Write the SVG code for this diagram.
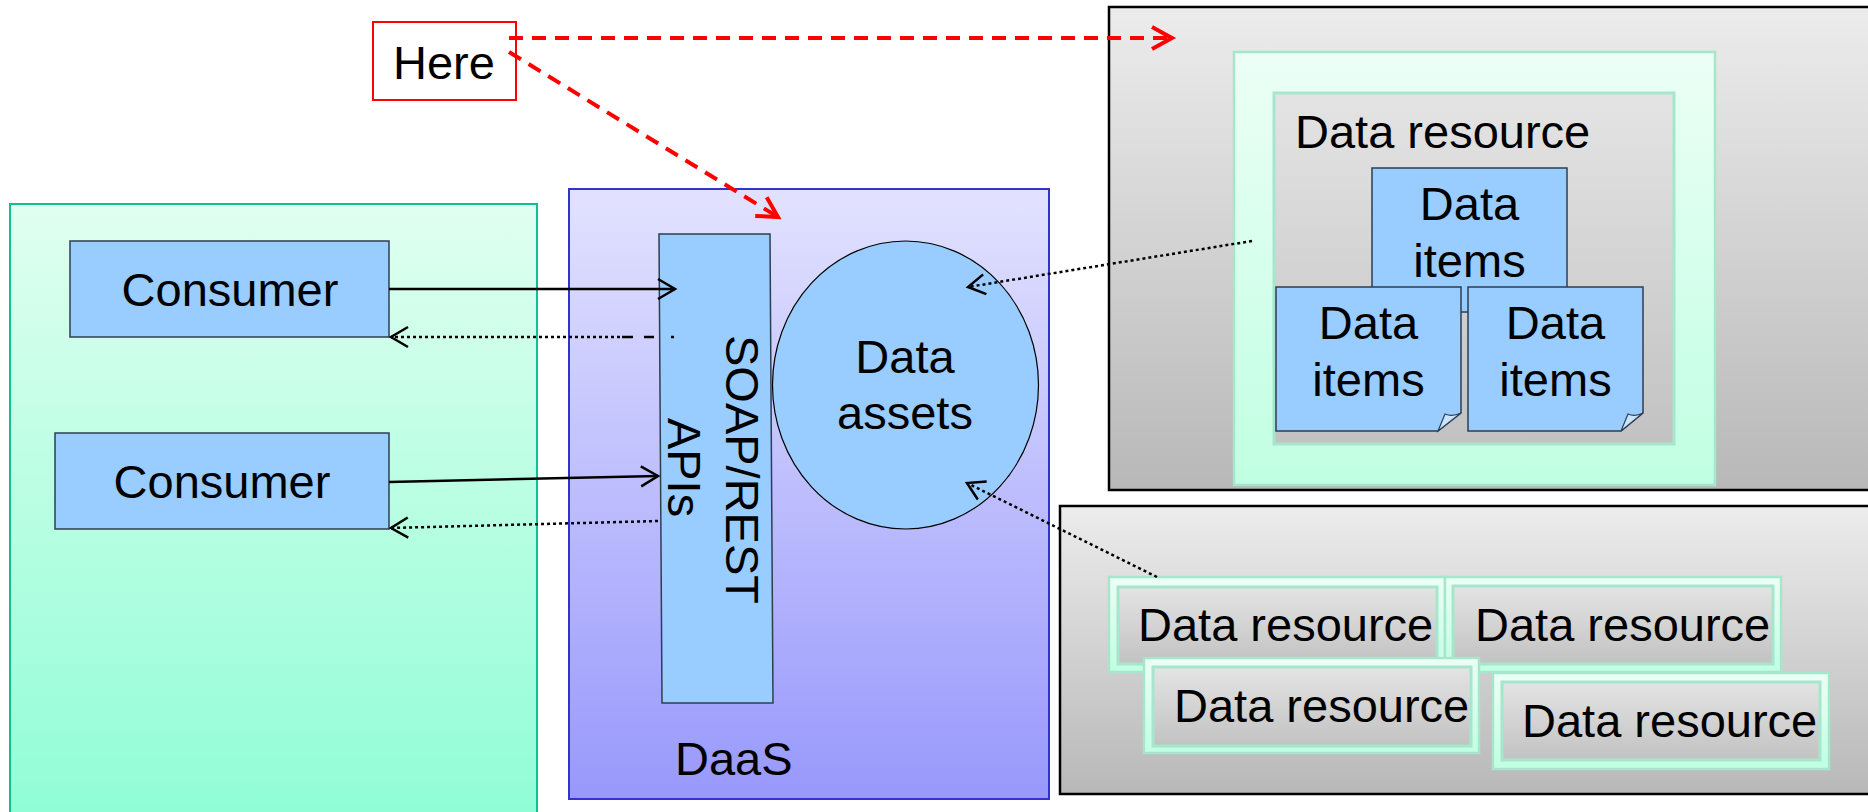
<svg xmlns="http://www.w3.org/2000/svg" width="1868" height="812" viewBox="0 0 1868 812">
<defs>
<linearGradient id="gGreen" x1="0" y1="0" x2="0" y2="1"><stop offset="0" stop-color="#e0fff0"/><stop offset="1" stop-color="#8ffdd6"/></linearGradient>
<linearGradient id="gDaas" x1="0" y1="0" x2="0" y2="1"><stop offset="0" stop-color="#e2e2ff"/><stop offset="1" stop-color="#9898fc"/></linearGradient>
<linearGradient id="gGray" x1="0" y1="0" x2="0" y2="1"><stop offset="0" stop-color="#ececec"/><stop offset="1" stop-color="#b8b8b8"/></linearGradient>
<linearGradient id="gMint" x1="0" y1="0" x2="0" y2="1"><stop offset="0" stop-color="#ecfff6"/><stop offset="1" stop-color="#c0ffe2"/></linearGradient>
<linearGradient id="gInner" x1="0" y1="0" x2="0" y2="1"><stop offset="0" stop-color="#e4e4e4"/><stop offset="1" stop-color="#c2c2c2"/></linearGradient>
<marker id="arrB" viewBox="-2 -2 22 24" refX="17" refY="10" markerWidth="22" markerHeight="24" markerUnits="userSpaceOnUse" orient="auto" overflow="visible"><path d="M0,0 L17,10 L0,20" fill="none" stroke="#000" stroke-width="2.5"/></marker>
<marker id="arrR" viewBox="-2 -2 26 28" refX="20" refY="11" markerWidth="26" markerHeight="28" markerUnits="userSpaceOnUse" orient="auto" overflow="visible"><path d="M0,0 L20,11 L0,22" fill="none" stroke="#ff0000" stroke-width="4"/></marker>
<style>
text{font-family:"Liberation Sans",Arial,sans-serif;font-size:47px;fill:#000}
.mid{text-anchor:middle}
.blue{fill:#99ccff;stroke:#2e3e50;stroke-width:1.5}
.frame{fill:url(#gMint);stroke:#a6e6cc;stroke-width:2.5}
.inner{fill:url(#gInner);stroke:#a6e6cc;stroke-width:3}
.solid{stroke:#000;stroke-width:2.5;fill:none;marker-end:url(#arrB)}
.dot{stroke:#000;stroke-width:2.5;fill:none;stroke-dasharray:3 3;marker-end:url(#arrB)}
.red{stroke:#ff0000;stroke-width:4;fill:none;stroke-dasharray:14 9;marker-end:url(#arrR)}
</style>
</defs>
<rect width="1868" height="812" fill="#ffffff"/>

<g id="consumers-panel">
<rect x="10" y="204" width="527" height="620" fill="url(#gGreen)" stroke="#10c090" stroke-width="2"/>
</g>

<g id="daas">
<rect x="569" y="189" width="480" height="610" fill="url(#gDaas)" stroke="#3333cc" stroke-width="2"/>
<text x="675" y="775">DaaS</text>
</g>

<g id="top-store">
<rect x="1109" y="7" width="780" height="483" fill="url(#gGray)" stroke="#000" stroke-width="2.5"/>
</g>
<g id="top-resource">
<rect x="1234" y="52" width="481" height="433" class="frame"/>
<rect x="1274" y="93" width="400" height="351" class="inner"/>
<text x="1295" y="148">Data resource</text>
</g>
<g id="item-top">
<rect x="1372" y="168" width="195" height="144" class="blue"/>
<text x="1469.5" y="220" class="mid">Data</text>
<text x="1469.5" y="277" class="mid">items</text>
</g>
<g id="item-left">
<path d="M1276,287 H1461 V413 L1438,431 H1276 Z" class="blue"/>
<path d="M1438,431 L1445,414 Q1452,417 1461,413 Z" fill="#c8e4ff" stroke="#2e3e50" stroke-width="1.2"/>
<text x="1368.5" y="339" class="mid">Data</text>
<text x="1368.5" y="396" class="mid">items</text>
</g>
<g id="item-right">
<path d="M1468,287 H1643 V413 L1621,431 H1468 Z" class="blue"/>
<path d="M1621,431 L1628,414 Q1635,417 1643,413 Z" fill="#c8e4ff" stroke="#2e3e50" stroke-width="1.2"/>
<text x="1555.5" y="339" class="mid">Data</text>
<text x="1555.5" y="396" class="mid">items</text>
</g>

<g id="bottom-store">
<rect x="1060" y="506" width="830" height="288" fill="url(#gGray)" stroke="#000" stroke-width="2.5"/>
</g>
<g id="res-a">
<rect x="1109" y="577" width="336" height="95" class="frame"/>
<rect x="1118" y="587" width="319" height="77" class="inner"/>
<text x="1138" y="641">Data resource</text>
</g>
<g id="res-b">
<rect x="1445" y="577" width="336" height="95" class="frame"/>
<rect x="1453" y="586" width="320" height="78" class="inner"/>
<text x="1475" y="641">Data resource</text>
</g>
<g id="res-c">
<rect x="1144" y="658" width="335" height="95" class="frame"/>
<rect x="1153" y="667" width="318" height="79" class="inner"/>
<text x="1174" y="722">Data resource</text>
</g>
<g id="res-d">
<rect x="1493" y="673" width="336" height="96" class="frame"/>
<rect x="1502" y="682" width="318" height="78" class="inner"/>
<text x="1522" y="737">Data resource</text>
</g>

<g id="consumer-1">
<rect x="70" y="241" width="319" height="96" class="blue"/>
<text x="230" y="306" class="mid">Consumer</text>
</g>
<g id="consumer-2">
<rect x="55" y="433" width="334" height="96" class="blue"/>
<text x="222" y="498" class="mid">Consumer</text>
</g>

<g id="apis">
<polygon points="659,234 770,234 773,703 662,703" class="blue"/>
<text class="mid" transform="translate(726,469.5) rotate(90)">SOAP/REST</text>
<text class="mid" transform="translate(668,467.5) rotate(90)">APIs</text>
</g>

<g id="data-assets">
<ellipse cx="905.5" cy="385" rx="133" ry="144" fill="#99ccff" stroke="#000" stroke-width="1.2"/>
<text x="905" y="373" class="mid">Data</text>
<text x="905" y="429" class="mid">assets</text>
</g>

<g id="here">
<rect x="373" y="22" width="143" height="78" fill="#ffffff" stroke="#ff0000" stroke-width="2"/>
<text x="393" y="79">Here</text>
</g>

<g id="connectors">
<line x1="389" y1="289" x2="675" y2="289" class="solid"/>
<line x1="620" y1="337" x2="391" y2="337" class="dot" stroke-dasharray="2 2"/>
<path d="M622,337 H633 M644,337 H654 M671,337 H674" stroke="#000" stroke-width="2.5"/>
<line x1="389" y1="482" x2="658" y2="476" class="solid"/>
<line x1="658" y1="521" x2="391" y2="528" class="dot"/>
<line x1="1252" y1="241" x2="968" y2="287" class="dot"/>
<line x1="1157" y1="577" x2="967" y2="483" class="dot"/>
<line x1="509" y1="38" x2="1172" y2="38" class="red"/>
<line x1="509" y1="52" x2="778" y2="217" class="red"/>
</g>
</svg>
